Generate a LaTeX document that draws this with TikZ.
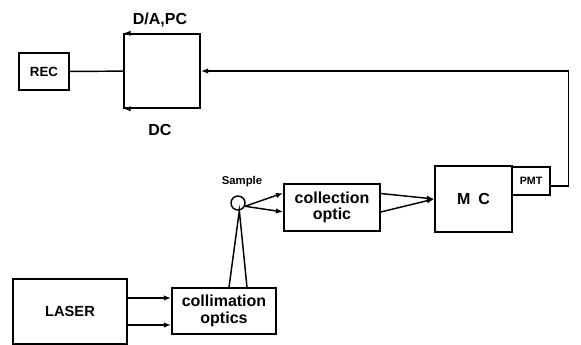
\documentclass[tikz,border=0pt]{standalone}
\usepackage{fontspec}
\setmainfont{Liberation Sans}
\usetikzlibrary{arrows.meta,calc}

\begin{document}
\begin{tikzpicture}[x=0.75pt, y=-0.75pt, line width=1.1pt,
    blk/.style={draw, inner sep=0pt, align=center,
      font=\fontsize{12}{12.5}\selectfont\bfseries},
    tag/.style={inner sep=0pt, font=\fontsize{12}{13}\selectfont\bfseries},
    arr/.style={-{Latex[length=5.5pt, width=4pt]}}]
  % frame of the figure, image pixels
  \useasboundingbox (0,0) rectangle (581,345);

  % ---- blocks -------------------------------------------------------------
  \node[blk, minimum width=37.5pt, minimum height=27.75pt,
        font=\fontsize{10}{11}\selectfont\bfseries] (rec) at (44,71.5) {REC};
  \node[blk, minimum width=57pt, minimum height=55.5pt] (dapc) at (162,71) {};
  \node[blk, minimum width=85.5pt, minimum height=48.75pt,
        font=\fontsize{11}{12}\selectfont\bfseries] (laser) at (70,311.5) {LASER};
  \node[blk, minimum width=78pt, minimum height=34.5pt] (colli) at (224,311)
    {collimation\\optics};
  \node[blk, minimum width=72pt, minimum height=35.25pt] (coll) at (332,207.5)
    {collection\\optic};
  \node[blk, minimum width=57.75pt, minimum height=49.5pt] (mc) at (473.5,199)
    {M\hspace{0.5em}C};
  \node[blk, minimum width=28.5pt, minimum height=21pt,
        font=\fontsize{8}{9}\selectfont\bfseries] (pmt) at (531,181) {PMT};
  \node[draw, circle, inner sep=0pt, minimum size=10.5pt] (sample) at (238,203) {};

  % ---- labels -------------------------------------------------------------
  \node[tag] (dalbl) at (160,20) {D/A,PC};
  \node[tag] (dclbl) at (160,130) {DC};
  \node[tag, font=\fontsize{8.5}{9}\selectfont\bfseries] (smplbl) at (242,182) {Sample};

  % ---- signal path --------------------------------------------------------
  \draw (rec) -- (dapc);
  \draw[arr] (dapc.north east) -- (dapc.north west);
  \draw[arr] (dapc.south east) -- (dapc.south west);
  \draw[arr] ($(pmt.east)+(0,5)$) -- ++(18,0) |- (dapc.east);

  % ---- optical path -------------------------------------------------------
  \draw[arr] ($(laser.east)+(0,-13.5)$) -- ($(colli.west)+(0,-13)$);
  \draw[arr] ($(laser.east)+(0,13.5)$) -- ($(colli.west)+(0,14)$);
  \draw ($(colli.north)+(5,0)$) -- (sample.-80)
        -- ($(colli.north)+(23,0)$);
  \draw[arr] (sample.-25) -- ($(coll.west)+(0,-14.5)$);
  \draw[arr] (sample.-25) -- ($(coll.west)+(0,4.5)$);
  \draw[arr] ($(coll.east)+(0,-14)$) -- (mc.west);
  \draw[arr] ($(coll.east)+(0,4.5)$) -- (mc.west);
\end{tikzpicture}
\end{document}
